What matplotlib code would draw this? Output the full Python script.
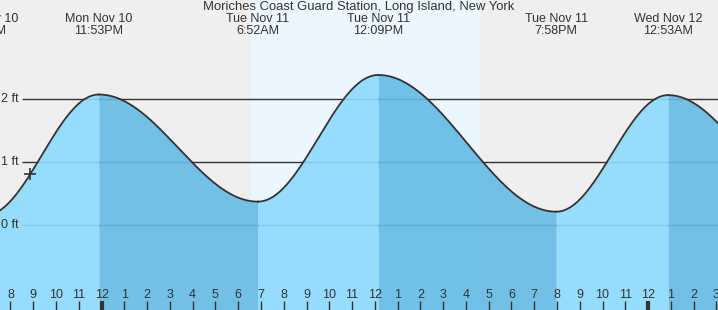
import numpy as np
import matplotlib
matplotlib.use("Agg")
import matplotlib.pyplot as plt
import matplotlib.transforms as mtransforms

plt.rcParams["font.family"] = ["Liberation Sans", "DejaVu Sans"]

# ─── Data (hours relative to Tue Nov 11 00:00) ────────────────────────────────
TITLE = "Moriches Coast Guard Station, Long Island, New York"
event_hours = [-5.12, -0.117, 6.867, 12.15, 19.967, 24.883, 31.4]
event_feet = [0.15, 2.07, 0.37, 2.38, 0.21, 2.06, 0.30]
event_dates = ["Mon Nov 10", "Mon Nov 10", "Tue Nov 11", "Tue Nov 11",
               "Tue Nov 11", "Wed Nov 12", "Wed Nov 12"]
event_times = ["6:52PM", "11:53PM", "6:52AM", "12:09PM",
               "7:58PM", "12:53AM", "7:20AM"]
sunrise, sunset = 6.57, 16.62
now_hour = -3.14
ft_levels = [0, 1, 2]
tick_hours = list(range(-4, 28))

X_MIN, X_MAX = -4.46, 27.07
Y_MIN, Y_MAX = -1.35, 3.57

NIGHT = "#efefef"
DAY = "#ecf6ff"
FLOOD = "#8cdaff"   # drawn at alpha 0.9 -> looks like #97dcfe
EBB = "#64bbe5"     # drawn at alpha 0.9 -> looks like #72c0e6
INK = "#333333"


def tide_at(t):
    # cosine shape between neighbouring extremes
    for i in range(len(event_hours) - 1):
        t0, t1 = event_hours[i], event_hours[i + 1]
        if t0 <= t <= t1:
            h0, h1 = event_feet[i], event_feet[i + 1]
            ph = (t - t0) / (t1 - t0)
            return h0 + (h1 - h0) * (1 - np.cos(np.pi * ph)) / 2
    return np.nan


fig = plt.figure(figsize=(7.18, 3.10), dpi=100)
fig.patch.set_facecolor(NIGHT)
ax = fig.add_axes([0, 0, 1, 1])
ax.set_facecolor(NIGHT)
ax.set_xlim(X_MIN, X_MAX)
ax.set_ylim(Y_MIN, Y_MAX)
ax.axis("off")

ax.axvspan(sunrise, sunset, color=DAY, zorder=0, lw=0)

# level lines (start a bit right of the labels)
x_line0 = X_MIN + 22 / 718 * (X_MAX - X_MIN)
for lv in ft_levels:
    ax.hlines(lv, x_line0, X_MAX, color=INK, lw=1, zorder=1)
    ax.text(X_MIN + 1 / 718 * (X_MAX - X_MIN), lv, f"{lv} ft",
            ha="left", va="center", fontsize=9, color=INK, zorder=5)

# tide curve, segment by segment
for i in range(len(event_hours) - 1):
    t = np.linspace(event_hours[i], event_hours[i + 1], 200)
    h = np.array([tide_at(v) for v in t])
    rising = event_feet[i + 1] > event_feet[i]
    ax.fill_between(t, Y_MIN, h, color=FLOOD if rising else EBB,
                    lw=0, alpha=0.9, zorder=2)
    ax.plot(t, h, color=INK, lw=1.3, zorder=3)

ax.plot(now_hour, tide_at(now_hour), marker="+", ms=9, mew=1.2,
        color=INK, zorder=4)

# hour ticks along the bottom
trans = mtransforms.blended_transform_factory(ax.transData, ax.transAxes)
for hr in tick_hours:
    midnight = hr % 24 == 0
    ax.plot([hr, hr], [0, 9 / 310], transform=trans, color=INK,
            lw=3 if midnight else 1, solid_capstyle="butt", zorder=5)
    lab = (hr % 12) or 12
    ax.text(hr, 15 / 310, str(lab), transform=trans, ha="center",
            va="center", fontsize=9, color=INK, zorder=5)

# event labels along the top
for t, d, tm in zip(event_hours, event_dates, event_times):
    ax.text(t, 1 - 19 / 310, d, transform=trans, ha="center", va="center",
            fontsize=9, color=INK)
    ax.text(t, 1 - 31 / 310, tm, transform=trans, ha="center", va="center",
            fontsize=9, color=INK)

ax.text(0.5, 1 - 7 / 310, TITLE, transform=ax.transAxes, ha="center",
        va="center", fontsize=9.4, color=INK)

fig.savefig("out.png", dpi=100, facecolor=fig.get_facecolor())
